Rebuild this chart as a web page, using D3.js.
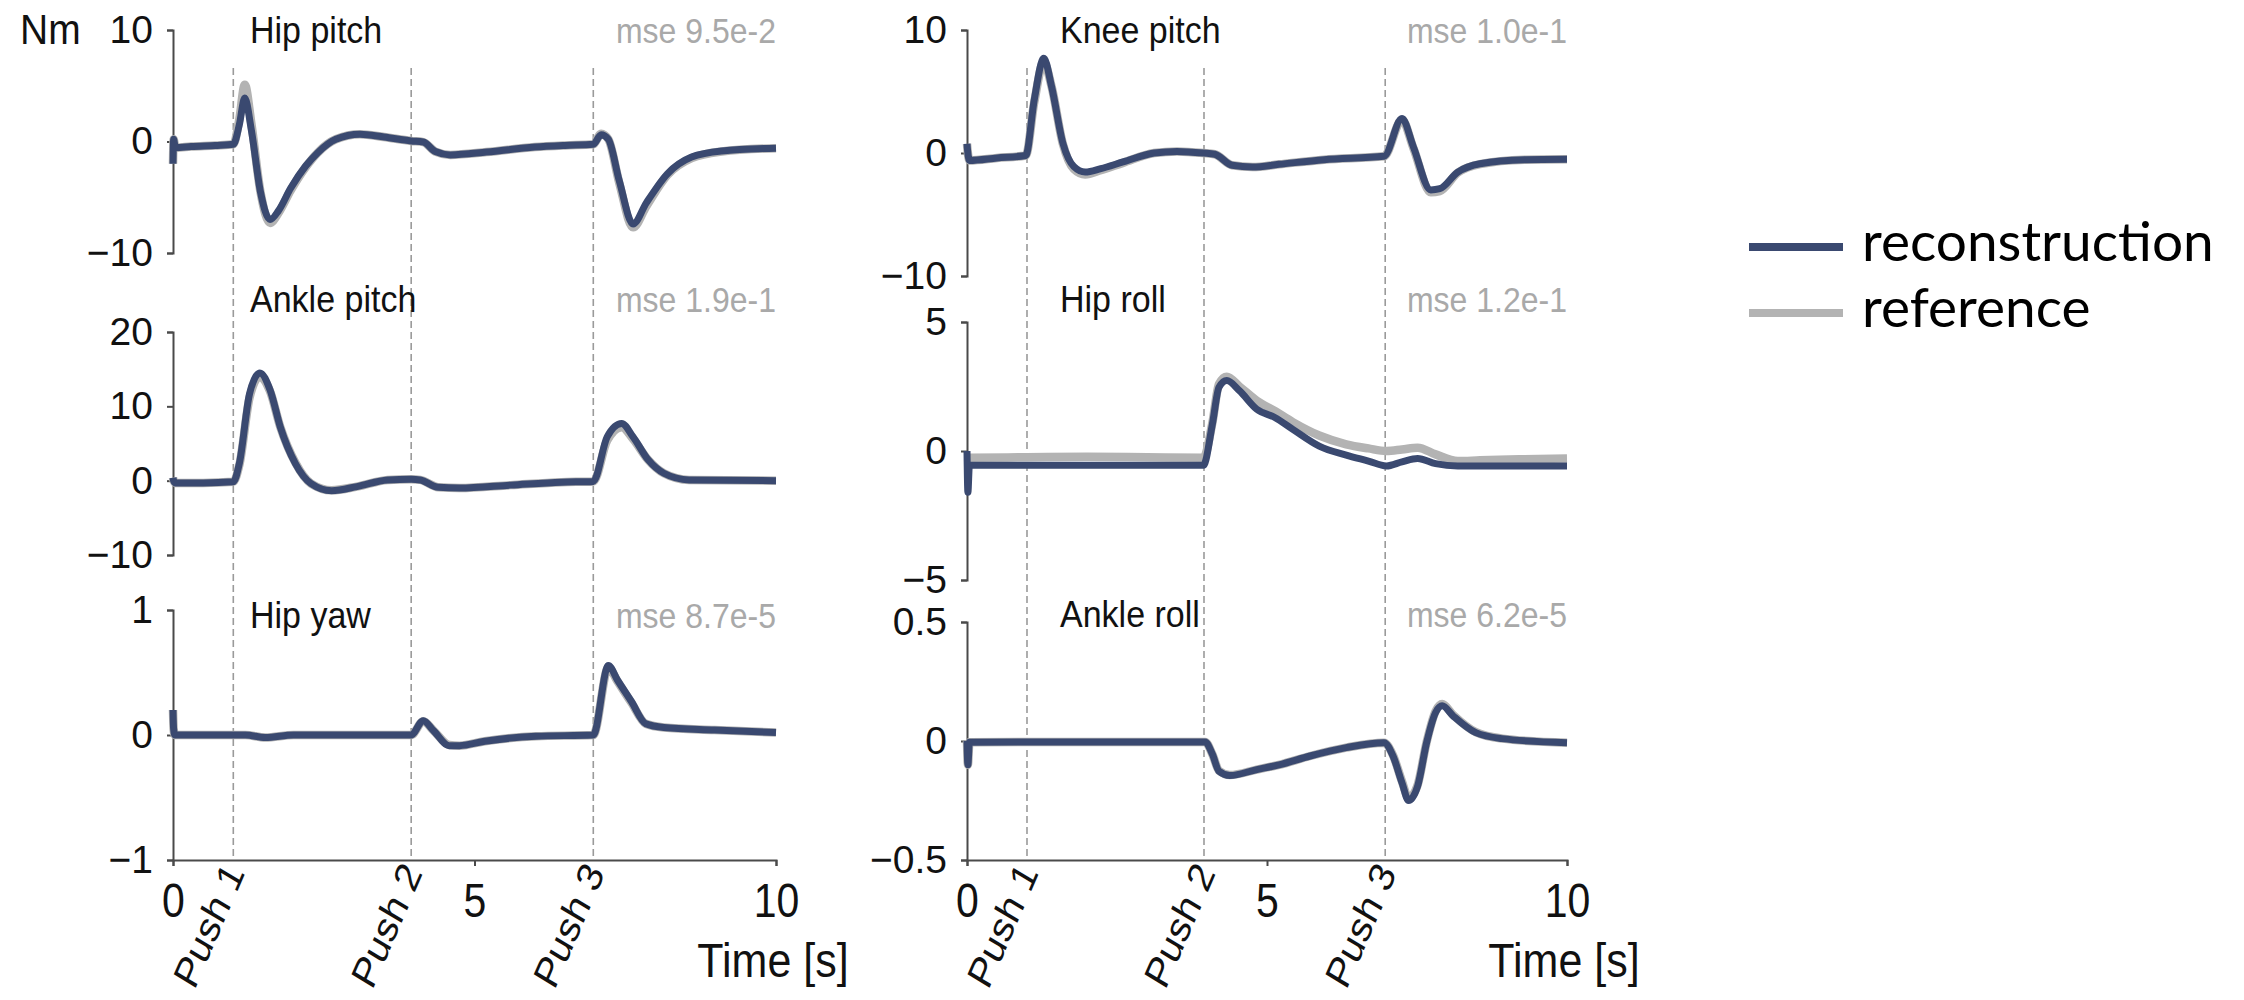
<!DOCTYPE html>
<html>
<head>
<meta charset="utf-8">
<script src="https://cdn.jsdelivr.net/npm/d3@7"></script>
<style>
  body { margin: 0; background: #fff; }
  svg { display: block; }
</style>
</head>
<body>
<svg id="chart" width="2244" height="1000"></svg>
<script>
// ---- joint torques (Nm) over time (s) ----
const jointNames = ["Hip pitch", "Ankle pitch", "Hip yaw", "Knee pitch", "Hip roll", "Ankle roll"];
const mseLabels = ["mse 9.5e-2", "mse 1.9e-1", "mse 8.7e-5", "mse 1.0e-1", "mse 1.2e-1", "mse 6.2e-5"];
const yDomains = [[-10, 10], [-10, 20], [-1, 1], [-10, 10], [-5, 5], [-0.5, 0.5]];
const yTickValues = [[-10, 0, 10], [-10, 0, 10, 20], [-1, 0, 1], [-10, 0, 10], [-5, 0, 5], [-0.5, 0, 0.5]];
const xTickValues = [0, 5, 10];
const pushTimes = [1, 3.95, 6.97];
const pushLabels = ["Push 1", "Push 2", "Push 3"];
const seriesNames = ["reconstruction", "reference"];

const tHipPitch = [0, 0.01, 0.04, 0.3, 0.7, 1.0, 1.1, 1.19, 1.3, 1.45, 1.61, 1.75, 1.95, 2.2, 2.4, 2.7, 3.1, 3.5, 3.95, 4.15, 4.35, 4.6, 5.2, 6.0, 6.5, 6.97, 7.1, 7.22, 7.4, 7.63, 7.85, 8.2, 8.6, 9.1, 10];
const hipPitchRec = [-2.0, 0.2, -0.55, -0.45, -0.35, -0.25, 1.5, 3.9, 1.0, -4.5, -7.0, -6.2, -4.2, -2.2, -1.0, 0.2, 0.65, 0.4, 0.05, -0.05, -0.9, -1.2, -0.95, -0.5, -0.35, -0.25, 0.6, 0.2, -3.5, -7.4, -5.5, -2.9, -1.4, -0.85, -0.6];
const hipPitchRef = [-2.0, 0.2, -0.55, -0.45, -0.35, -0.25, 2.0, 5.1, 1.6, -4.5, -7.3, -6.4, -4.4, -2.3, -1.0, 0.2, 0.65, 0.4, 0.05, -0.05, -0.9, -1.2, -0.95, -0.5, -0.35, -0.25, 0.7, 0.2, -3.7, -7.7, -5.8, -3.0, -1.5, -0.9, -0.6];

const tAnklePitch = [0, 0.01, 0.04, 0.5, 1.0, 1.1, 1.27, 1.44, 1.61, 1.78, 2.03, 2.29, 2.63, 3.05, 3.56, 3.95, 4.1, 4.4, 4.75, 5.6, 6.44, 6.97, 7.2, 7.44, 7.63, 7.88, 8.14, 8.56, 10];
const anklePitchRec = [0.4, 0.0, -0.3, -0.3, -0.15, 2.3, 11.7, 14.5, 12.2, 7.2, 2.3, -0.4, -1.35, -0.8, 0.1, 0.2, 0.1, -0.9, -1.0, -0.6, -0.2, -0.1, 5.9, 7.7, 5.9, 2.8, 1.0, 0.1, 0.0];
const anklePitchRef = [0.4, 0.0, -0.3, -0.3, -0.15, 2.1, 11.2, 14.0, 12.0, 7.2, 2.4, -0.4, -1.3, -0.8, 0.1, 0.2, 0.1, -0.9, -1.0, -0.6, -0.2, -0.1, 5.4, 7.2, 5.6, 2.8, 1.0, 0.1, 0.0];

const tHipYaw = [0, 0.01, 0.03, 0.5, 1.2, 1.53, 2.0, 3.0, 3.95, 4.15, 4.32, 4.58, 4.75, 5.17, 6.02, 6.97, 7.22, 7.37, 7.6, 7.84, 8.14, 8.98, 10];
const hipYawRec = [0.2, 0.05, 0, 0, 0, -0.02, 0, 0, 0, 0.115, 0.035, -0.085, -0.085, -0.05, -0.01, 0, 0.556, 0.44, 0.27, 0.09, 0.06, 0.04, 0.02];
const hipYawRef = [0.2, 0.05, 0, 0, 0, -0.02, 0, 0, 0, 0.11, 0.035, -0.08, -0.085, -0.05, -0.01, 0, 0.54, 0.43, 0.26, 0.09, 0.06, 0.04, 0.02];

const tKneePitch = [0, 0.01, 0.04, 0.5, 0.98, 1.12, 1.28, 1.41, 1.6, 1.78, 1.97, 2.23, 2.6, 3.12, 3.5, 3.94, 4.13, 4.42, 4.76, 5.2, 5.95, 6.95, 7.25, 7.44, 7.73, 7.88, 8.18, 8.55, 9.29, 10];
const kneePitchRec = [0.75, 0.2, -0.6, -0.4, -0.2, 4.3, 7.7, 5.4, 0.76, -1.1, -1.55, -1.27, -0.73, 0, 0.13, 0, -0.1, -1.0, -1.14, -0.92, -0.54, -0.27, 2.8, 0.49, -3.0, -2.9, -1.55, -0.87, -0.54, -0.5];
const kneePitchRef = [0.75, 0.2, -0.6, -0.4, -0.2, 4.1, 7.4, 5.4, 0.7, -1.3, -1.75, -1.4, -0.8, 0, 0.13, 0, -0.1, -1.0, -1.14, -0.92, -0.54, -0.27, 2.7, 0.4, -3.2, -3.1, -1.6, -0.9, -0.54, -0.5];

const tHipRoll = [0, 0.015, 0.04, 1, 2, 3, 3.94, 4.09, 4.2, 4.33, 4.54, 4.83, 5.13, 5.43, 5.87, 6.32, 6.69, 6.99, 7.25, 7.51, 7.81, 8.18, 8.55, 9.2, 10];
const hipRollRec = [0, -1.6, -0.55, -0.55, -0.55, -0.55, -0.55, 1.04, 2.47, 2.73, 2.34, 1.62, 1.3, 0.84, 0.19, -0.16, -0.39, -0.58, -0.42, -0.29, -0.49, -0.58, -0.58, -0.58, -0.58];
const hipRollRef = [-0.26, -0.26, -0.26, -0.24, -0.22, -0.24, -0.26, 1.1, 2.6, 2.88, 2.5, 1.95, 1.55, 1.12, 0.6, 0.26, 0.1, 0.0, 0.06, 0.13, -0.13, -0.39, -0.36, -0.32, -0.29];

const tAnkleRoll = [0, 0.015, 0.04, 1, 2, 3, 3.97, 4.09, 4.2, 4.38, 4.83, 5.2, 5.72, 6.32, 6.95, 7.1, 7.25, 7.36, 7.51, 7.66, 7.81, 7.92, 8.1, 8.48, 8.92, 10];
const ankleRollRec = [0, -0.1, -0.005, -0.004, -0.004, -0.004, -0.004, -0.056, -0.127, -0.145, -0.12, -0.1, -0.063, -0.028, -0.007, -0.063, -0.176, -0.25, -0.19, -0.007, 0.12, 0.148, 0.106, 0.035, 0.01, -0.007];
const ankleRollRef = [0, -0.1, -0.005, -0.004, -0.004, -0.004, -0.004, -0.056, -0.125, -0.143, -0.12, -0.1, -0.063, -0.028, -0.007, -0.06, -0.17, -0.24, -0.185, -0.005, 0.125, 0.155, 0.11, 0.037, 0.01, -0.007];

const jointTimes = [tHipPitch, tAnklePitch, tHipYaw, tKneePitch, tHipRoll, tAnkleRoll];
const jointRec = [hipPitchRec, anklePitchRec, hipYawRec, kneePitchRec, hipRollRec, ankleRollRec];
const jointRef = [hipPitchRef, anklePitchRef, hipYawRef, kneePitchRef, hipRollRef, ankleRollRef];

// ---- layout and styling ----
const FONT = "'Liberation Sans', Arial, sans-serif";
const REC_COLOR = "#3a4970";
const REF_COLOR = "#b3b3b3";
const AXIS_COLOR = "#4a4a4a";
const TEXT_STRETCH = 1.1;   // glyphs drawn slightly taller than wide
const columns = [{ x0: 173, x1: 776, titleX: 250 }, { x0: 967, x1: 1567, titleX: 1060 }];
const panelBoxes = [
  { col: 0, top: 30, bottom: 253, textY: 43 },
  { col: 0, top: 332, bottom: 555, textY: 312 },
  { col: 0, top: 610, bottom: 860, textY: 628 },
  { col: 1, top: 30, bottom: 276, textY: 43 },
  { col: 1, top: 322, bottom: 580, textY: 312 },
  { col: 1, top: 622, bottom: 860, textY: 627 }
];
const PUSH_TOP = 68, AXIS_BOTTOM = 860;

const svg = d3.select("#chart");
const fmt = d3.format("~g");

// places a text at (x, y) with a vertical stretch around its baseline
function stretchedText(parent, x, y, str, size, anchor, fill, family) {
  return parent.append("text")
    .attr("transform", `translate(${x},${y}) scale(1,${TEXT_STRETCH})`)
    .attr("text-anchor", anchor)
    .attr("font-family", family || FONT).attr("font-size", size).attr("fill", fill)
    .text(str);
}

const xScales = columns.map(c => d3.scaleLinear().domain([0, 10]).range([c.x0, c.x1]));

// push markers spanning each column
columns.forEach((c, ci) => {
  const x = xScales[ci];
  svg.append("g").selectAll("line").data(pushTimes).join("line")
    .attr("x1", d => x(d)).attr("x2", d => x(d))
    .attr("y1", PUSH_TOP).attr("y2", AXIS_BOTTOM)
    .attr("stroke", "#9a9a9a").attr("stroke-width", 1.6)
    .attr("stroke-dasharray", "7,4");
});

panelBoxes.forEach((p, i) => {
  const x = xScales[p.col];
  const c = columns[p.col];
  const y = d3.scaleLinear().domain(yDomains[i]).range([p.bottom, p.top]);
  const g = svg.append("g");

  // y axis
  const yAxis = d3.axisLeft(y).tickValues(yTickValues[i]).tickFormat(fmt)
    .tickSize(6).tickSizeOuter(6).tickPadding(14);
  const ya = g.append("g").attr("transform", `translate(${c.x0},0)`).call(yAxis);
  ya.select(".domain").attr("stroke", AXIS_COLOR).attr("stroke-width", 2);
  ya.selectAll(".tick line").attr("stroke", AXIS_COLOR).attr("stroke-width", 2);
  ya.selectAll(".tick text").attr("font-family", FONT).attr("font-size", 39).attr("fill", "#111");

  // titles
  stretchedText(g, c.titleX, p.textY, jointNames[i], 34, "start", "#111");
  stretchedText(g, c.x1, p.textY, mseLabels[i], 32, "end", "#a9a9a9");

  const pts = (vals) => jointTimes[i].map((t, k) => [t, vals[k]]);
  const line = d3.line().x(d => x(d[0])).y(d => y(d[1])).curve(d3.curveMonotoneX);

  g.append("path").datum(pts(jointRef[i]))
    .attr("d", line).attr("fill", "none").attr("stroke", REF_COLOR)
    .attr("stroke-width", 8.5).attr("stroke-linejoin", "round");
  g.append("path").datum(pts(jointRec[i]))
    .attr("d", line).attr("fill", "none").attr("stroke", REC_COLOR)
    .attr("stroke-width", 7).attr("stroke-linejoin", "round");
});

// x axes under the bottom row of each column
columns.forEach((c, ci) => {
  const x = xScales[ci];
  const xa = svg.append("g").attr("transform", `translate(0,${AXIS_BOTTOM})`)
    .call(d3.axisBottom(x).tickValues(xTickValues).tickFormat(fmt).tickSize(6).tickSizeOuter(6).tickPadding(20));
  xa.select(".domain").attr("stroke", AXIS_COLOR).attr("stroke-width", 2);
  xa.selectAll(".tick line").attr("stroke", AXIS_COLOR).attr("stroke-width", 2);
  xa.selectAll(".tick text").attr("font-family", FONT).attr("font-size", 41).attr("fill", "#111")
    .attr("dy", null).attr("y", null)
    .attr("transform", `translate(0,57) scale(1,1.15)`);

  stretchedText(svg, c.x1 - 3, 977, "Time [s]", 43, "middle", "#111");

  svg.append("g").selectAll("text").data(pushTimes).join("text")
    .attr("transform", d => `translate(${x(d) + 12},873) scale(1,1.18) rotate(-63)`)
    .attr("text-anchor", "end")
    .attr("font-family", FONT).attr("font-size", 36).attr("fill", "#111")
    .text((d, k) => pushLabels[k]);
});

// unit label
stretchedText(svg, 20, 44, "Nm", 39, "start", "#111");

// legend
const legend = svg.append("g");
const legendColors = [REC_COLOR, REF_COLOR];
const legendY = [247, 313];
seriesNames.forEach((name, k) => {
  legend.append("line").attr("x1", 1749).attr("x2", 1843)
    .attr("y1", legendY[k]).attr("y2", legendY[k])
    .attr("stroke", legendColors[k]).attr("stroke-width", 8);
  legend.append("text")
    .attr("transform", `translate(1862,${legendY[k] + 14}) scale(1.1,1.08)`)
    .attr("font-family", "Lato, 'Open Sans', sans-serif").attr("font-size", 50).attr("fill", "#000")
    .text(name);
});
</script>
</body>
</html>
